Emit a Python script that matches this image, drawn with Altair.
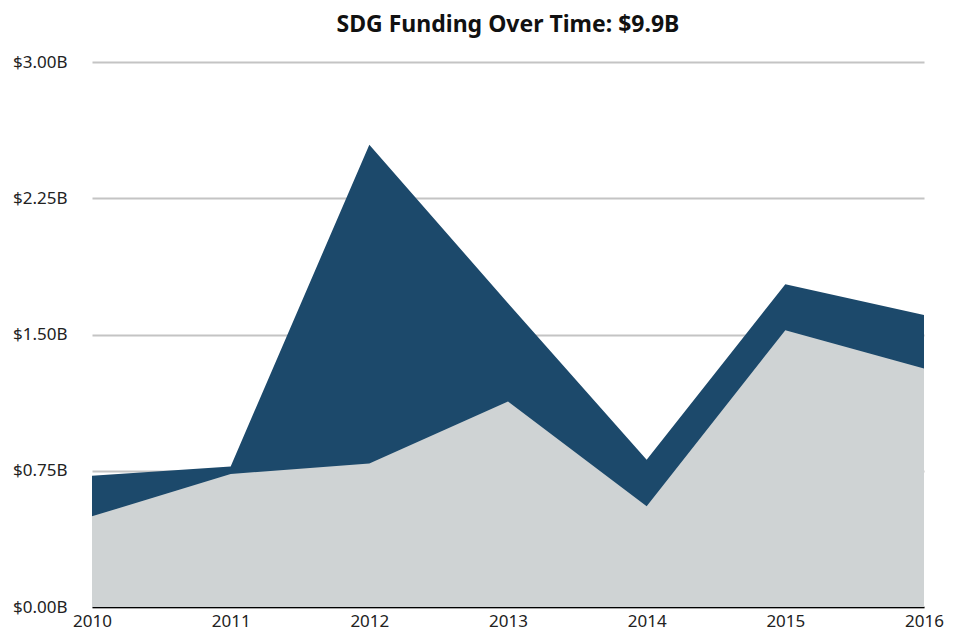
import altair as alt
import pandas as pd

years = [2010, 2011, 2012, 2013, 2014, 2015, 2016]
total_funding = [0.723, 0.774, 2.545, 1.672, 0.810, 1.777, 1.607]
subset_funding = [0.499, 0.732, 0.790, 1.131, 0.554, 1.524, 1.313]
y_ticks = [0, 0.75, 1.5, 2.25, 3.0]

df = pd.DataFrame({"year": years, "total": total_funding, "subset": subset_funding})

FONT = "Noto Sans"

x_enc = alt.X(
    "year:Q",
    scale=alt.Scale(domain=[2010, 2016], nice=False, zero=False),
    axis=alt.Axis(
        values=years, format="d", title=None, grid=False, ticks=False,
        labelFlush=False, labelPadding=6, labelFontSize=17, labelColor="#222222",
        labelFont=FONT, domainColor="#000000", domainWidth=1.5,
    ),
)

y_scale = alt.Scale(domain=[0, 3.0], nice=False)
y_axis = alt.Axis(
    values=y_ticks, title=None, ticks=False, domain=False,
    labelExpr="'$' + format(datum.value, '.2f') + 'B'",
    labelPadding=25, labelFontSize=17, labelColor="#222222", labelFont=FONT,
    gridColor="#c4c4c4", gridWidth=2,
)

dark = alt.Chart(df).mark_area(color="#1c496b", opacity=1).encode(
    x=x_enc,
    y=alt.Y("total:Q", scale=y_scale, axis=y_axis),
)
gray = alt.Chart(df).mark_area(color="#cfd3d4", opacity=1).encode(
    x=x_enc,
    y=alt.Y("subset:Q", scale=y_scale),
)

chart = alt.layer(dark, gray).properties(
    width=832,
    height=545,
    autosize=alt.AutoSizeParams(type="none"),
    padding={"left": 84, "top": 54, "right": 22, "bottom": 29},
    title=alt.TitleParams(
        "SDG Funding Over Time: $9.9B", anchor="middle", fontSize=23,
        fontWeight="bold", font=FONT, color="#111111", offset=16,
    ),
).configure_view(stroke=None)

chart.save("out.html", embed_options={"renderer": "svg", "actions": False})
